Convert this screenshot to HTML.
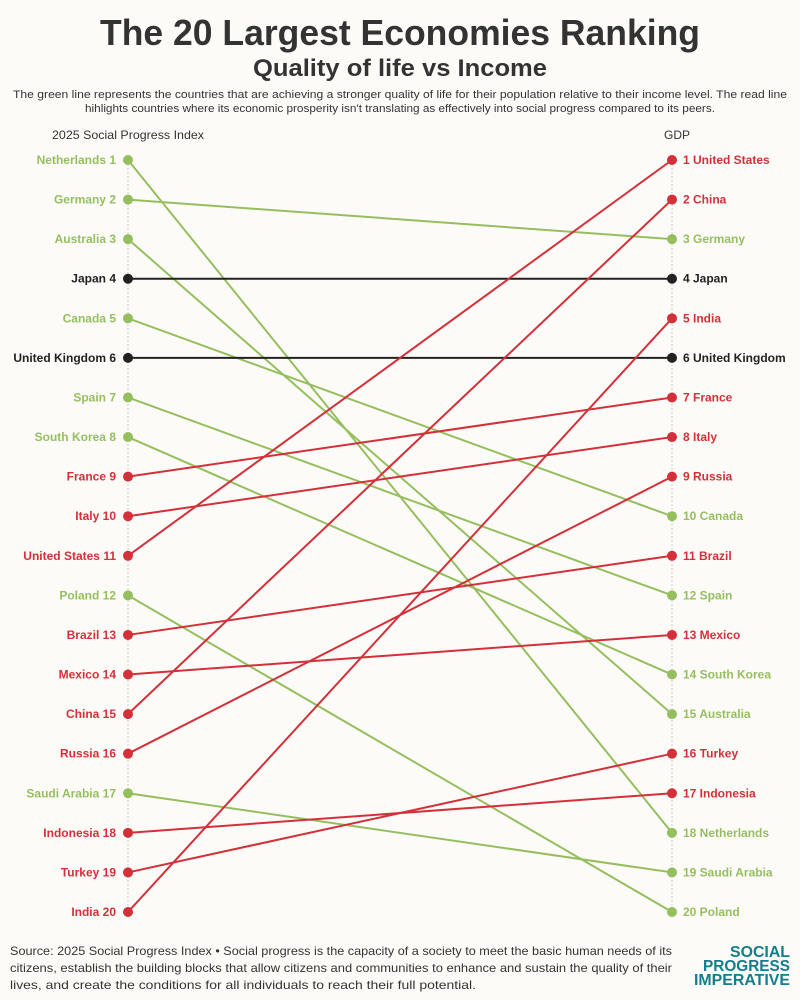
<!DOCTYPE html>
<html><head><meta charset="utf-8"><style>
body{margin:0;background:#fdfbf8;}
svg{display:block;font-family:"Liberation Sans",sans-serif;}
</style></head><body>
<svg id="chart" width="800" height="1000" viewBox="0 0 800 1000">
<rect width="800" height="1000" fill="#fdfbf8"/>
<text x="400" y="45" text-anchor="middle" font-size="36" font-weight="bold" fill="#333" textLength="600" lengthAdjust="spacingAndGlyphs">The 20 Largest Economies Ranking</text>
<text x="400" y="76" text-anchor="middle" font-size="24" font-weight="bold" fill="#333" textLength="294" lengthAdjust="spacingAndGlyphs">Quality of life vs Income</text>
<text x="400" y="98" text-anchor="middle" font-size="11" fill="#333" textLength="774" lengthAdjust="spacingAndGlyphs">The green line represents the countries that are achieving a stronger quality of life for their population relative to their income level. The read line</text>
<text x="400" y="112" text-anchor="middle" font-size="11" fill="#333" textLength="630" lengthAdjust="spacingAndGlyphs">hihlights countries where its economic prosperity isn't translating as effectively into social progress compared to its peers.</text>
<text x="52" y="139" font-size="12" fill="#333" textLength="152" lengthAdjust="spacingAndGlyphs">2025 Social Progress Index</text>
<text x="664" y="139" font-size="12" fill="#333">GDP</text>
<line x1="128" y1="160" x2="128" y2="912" stroke="#ccc" stroke-dasharray="2,2"/>
<line x1="672" y1="160" x2="672" y2="912" stroke="#ccc" stroke-dasharray="2,2"/>
<g id="marks"></g>
<text x="10" y="955" font-size="12" fill="#333" textLength="662" lengthAdjust="spacingAndGlyphs">Source: 2025 Social Progress Index • Social progress is the capacity of a society to meet the basic human needs of its</text>
<text x="10" y="972" font-size="12" fill="#333" textLength="662" lengthAdjust="spacingAndGlyphs">citizens, establish the building blocks that allow citizens and communities to enhance and sustain the quality of their</text>
<text x="10" y="989" font-size="12" fill="#333" textLength="466" lengthAdjust="spacingAndGlyphs">lives, and create the conditions for all individuals to reach their full potential.</text>
<g font-weight="bold" fill="#127d8c" text-anchor="end" font-size="16">
<text x="790" y="957" textLength="60" lengthAdjust="spacingAndGlyphs">SOCIAL</text>
<text x="790" y="971" textLength="87" lengthAdjust="spacingAndGlyphs">PROGRESS</text>
<text x="790" y="985" textLength="96" lengthAdjust="spacingAndGlyphs">IMPERATIVE</text>
</g>
</svg>
<script>
const countries=["Netherlands","Germany","Australia","Japan","Canada","United Kingdom","Spain","South Korea","France","Italy","United States","Poland","Brazil","Mexico","China","Russia","Saudi Arabia","Indonesia","Turkey","India"];
const spiRank=[1,2,3,4,5,6,7,8,9,10,11,12,13,14,15,16,17,18,19,20];
const gdpRank=[18,3,15,4,10,6,12,14,7,8,1,20,11,13,2,9,19,17,16,5];
const NS="http://www.w3.org/2000/svg";
const xL=128,xR=672,y0=160,y1=912;
const y=r=>y0+(r-1)*(y1-y0)/19;
const g=document.getElementById('marks');
function mk(t,a){const e=document.createElementNS(NS,t);for(const k in a)e.setAttribute(k,a[k]);return e;}
countries.forEach((c,i)=>{
 const s=spiRank[i],d=gdpRank[i];
 const col=s<d?"#95bf5f":s>d?"#d3303a":"#222";
 const slug=c.toLowerCase().replace(/ /g,'-');
 const ln=mk('line',{x1:xL,y1:y(s),x2:xR,y2:y(d),stroke:col,'stroke-width':2});
 
 
 g.appendChild(ln);
 [[xL,s],[xR,d]].forEach(([x,r],j)=>{
  const ci=mk('circle',{cx:x,cy:y(r),r:5,fill:col});
  
  
  g.appendChild(ci);
 });
 const t1=mk('text',{x:xL-12,y:y(s)+4,'text-anchor':'end','font-size':12,'font-weight':'bold',fill:col});
 t1.textContent=c+" "+s;
 
 
 g.appendChild(t1);
 const t2=mk('text',{x:xR+11,y:y(d)+4,'font-size':12,'font-weight':'bold',fill:col});
 t2.textContent=d+" "+c;
 
 
 g.appendChild(t2);
});
</script>
</body></html>
